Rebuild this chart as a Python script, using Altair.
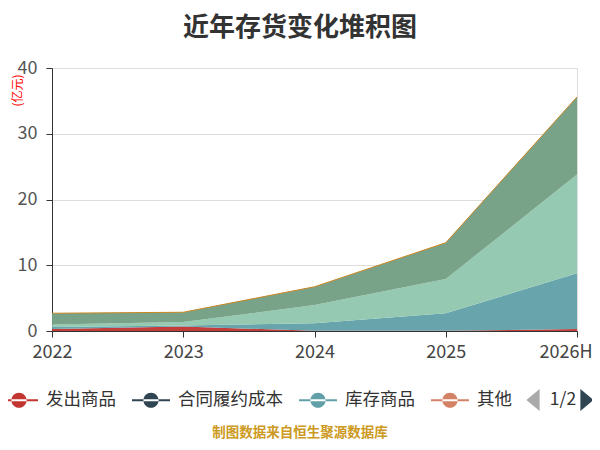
import altair as alt
import pandas as pd

years = ["2022", "2023", "2024", "2025", "2026H"]
series_names = ["发出商品", "合同履约成本", "库存商品", "其他", "原材料", "在产品", "周转材料"]
series_colors = ["#c23531", "#2f4554", "#61a0a8", "#d48265", "#91c7ae", "#749f83", "#ca8622"]

fachu = [0.3, 0.7, 0.02, 0.02, 0.3]
hetong = [0.0, 0.0, 0.0, 0.0, 0.0]
kucun = [0.3, 0.15, 1.15, 2.67, 8.47]
qita = [0.0, 0.0, 0.0, 0.0, 0.0]
yuancailiao = [0.4, 0.5, 2.78, 5.21, 15.03]
zaichanpin = [1.7, 1.5, 2.78, 5.52, 11.8]
zhouzhuan = [0.0, 0.0, 0.0, 0.0, 0.0]

all_values = [fachu, hetong, kucun, qita, yuancailiao, zaichanpin, zhouzhuan]

title_text = "近年存货变化堆积图"
footer_text = "制图数据来自恒生聚源数据库"

rows = []
for i, (name, vals) in enumerate(zip(series_names, all_values)):
    for y, v in zip(years, vals):
        rows.append({"year": y, "series": name, "value": v, "order": i})
df = pd.DataFrame(rows)

FONT = "Noto Sans CJK SC"

x_enc = alt.X(
    "year:O",
    sort=years,
    scale=alt.Scale(type="point", padding=0),
    axis=alt.Axis(
        title=None, labelFontSize=18, labelColor="#444", labelFont=FONT,
        labelPadding=6, tickSize=6, tickColor="#333", domainColor="#333",
        labelAngle=0, grid=False,
        labelAlign=alt.ExprRef("datum.label == '2026H' ? 'right' : 'center'"),
        labelOffset=alt.ExprRef("datum.label == '2026H' ? 15 : 0"),
    ),
)

area = alt.Chart(df).mark_area(opacity=0.96).encode(
    x=x_enc,
    y=alt.Y(
        "value:Q", stack="zero",
        scale=alt.Scale(domain=[0, 40]),
        axis=alt.Axis(
            values=[0, 10, 20, 30, 40], title="(亿元)", titleColor="#ff0000",
            titleFontSize=12, titleFont=FONT, titleFontWeight="normal",
            titleX=-35, titleY=22, titleAlign="center", titleBaseline="middle",
            labelFontSize=18, labelColor="#555", labelFont=FONT, labelPadding=9,
            tickSize=6, tickColor="#333", domainColor="#333",
            gridColor="#dddddd", gridWidth=1.2,
        ),
    ),
    color=alt.Color(
        "series:N",
        scale=alt.Scale(domain=series_names, range=series_colors),
        legend=alt.Legend(
            values=series_names[:4], orient="none", legendX=-52, legendY=313,
            direction="horizontal", title=None,
            symbolType="M-1,-0.055L1,-0.055L1,0.055L-1,0.055Z M-0.4,0 A0.4,0.4 0 1,0 0.4,0 A0.4,0.4 0 1,0 -0.4,0 Z",
            symbolSize=1444, symbolStrokeWidth=0, symbolOpacity=1,
            labelFontSize=17.5, labelColor="#333", labelFont=FONT,
            labelOffset=8, columnPadding=16,
        ),
    ),
    order=alt.Order("order:Q"),
)

top_line = alt.Chart(df).transform_aggregate(
    total="sum(value)", groupby=["year"]
).mark_line(color="#ca8622", strokeWidth=1).encode(
    x=alt.X("year:O", sort=years), y="total:Q"
)

pager = pd.DataFrame({"t": ["1/2"]})
page_text = alt.Chart(pager).mark_text(
    fontSize=17.5, color="#333", font=FONT, align="center", baseline="middle"
).encode(x=alt.value(511), y=alt.value(332), text="t:N")

prev_arrow = alt.Chart(pager).mark_point(
    shape="M0.6,-1L-0.6,0L0.6,1Z", filled=True, color="#aaaaaa", opacity=1, size=484
).encode(x=alt.value(481), y=alt.value(332))

next_arrow = alt.Chart(pager).mark_point(
    shape="M-0.6,-1L0.6,0L-0.6,1Z", filled=True, color="#2f4554", opacity=1, size=484
).encode(x=alt.value(535), y=alt.value(332))

footer = alt.Chart(pd.DataFrame({"t": [footer_text]})).mark_text(
    fontSize=13.5, color="#cc9a22", font=FONT, fontWeight="bold",
    align="center", baseline="middle"
).encode(x=alt.value(248), y=alt.value(365), text="t:N")

title_mark = alt.Chart(pd.DataFrame({"t": [title_text]})).mark_text(
    fontSize=26, color="#333", font=FONT, fontWeight="bold",
    align="center", baseline="middle"
).encode(x=alt.value(248), y=alt.value(-40), text="t:N")

chart = alt.layer(area, top_line, page_text, prev_arrow, next_arrow, footer, title_mark).properties(
    width=525, height=263,
    autosize="none",
    padding={"left": 44, "top": 60, "right": 15, "bottom": 111},
).configure_view(stroke=None).configure(background="white")

chart.save("out.html", embed_options={"renderer": "svg", "actions": False})
